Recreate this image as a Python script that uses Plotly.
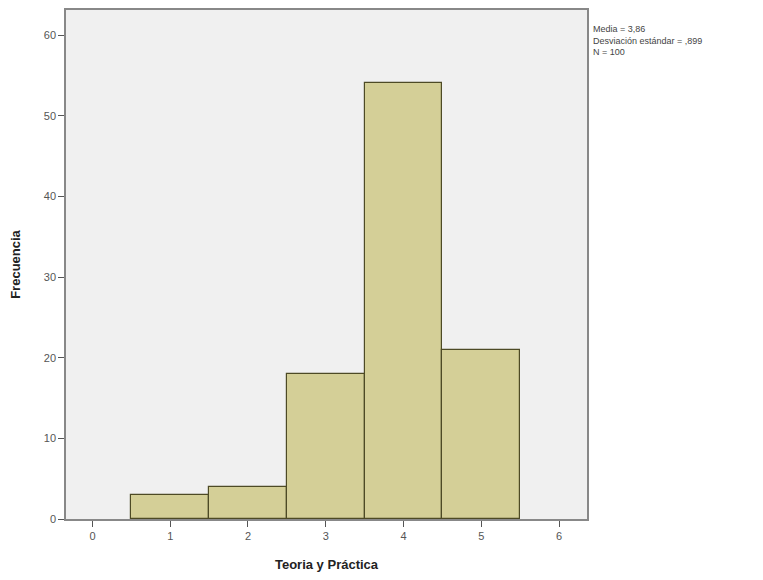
import plotly.graph_objects as go

categories = [1, 2, 3, 4, 5]
frequencies = [3, 4, 18, 54, 21]
x_ticks = [0, 1, 2, 3, 4, 5, 6]
y_ticks = [0, 10, 20, 30, 40, 50, 60]
stats_text = "Media = 3,86<br>Desviación estándar = ,899<br>N = 100"

fig = go.Figure()
fig.add_trace(go.Bar(
    x=categories, y=frequencies, width=1,
    marker=dict(color="#D4CF97", line=dict(color="#4d4a25", width=1.2)),
    hoverinfo="x+y",
))

fig.update_layout(
    width=747, height=564,
    margin=dict(l=58, r=168, t=0, b=53),
    paper_bgcolor="white", plot_bgcolor="#F0F0F0",
    showlegend=False, bargap=0,
    font=dict(family="Liberation Sans, Arial, sans-serif", color="#555555", size=11),
    xaxis=dict(
        range=[-0.34, 6.36], tickvals=x_ticks, ticks="outside", ticklen=6,
        tickcolor="#555555", showgrid=False, zeroline=False,
        showline=True, linecolor="#888888", mirror=True, linewidth=1.5,
        title=dict(text="<b>Teoria y Práctica</b>", font=dict(size=13, color="#222222"), standoff=20),
    ),
    yaxis=dict(
        range=[0, 63.1], tickvals=y_ticks, ticks="outside", ticklen=6,
        tickcolor="#555555", showgrid=False, zeroline=False,
        showline=True, linecolor="#888888", mirror=True, linewidth=1.5,
        title=dict(text="<b>Frecuencia</b>", font=dict(size=13, color="#222222"), standoff=22),
    ),
    annotations=[dict(
        x=1, y=1, xref="paper", yref="paper", xanchor="left", yanchor="top",
        xshift=4, yshift=-12, align="left", showarrow=False,
        text=stats_text, font=dict(size=9, color="#444444"),
    )],
)

fig.write_html("out.html")
